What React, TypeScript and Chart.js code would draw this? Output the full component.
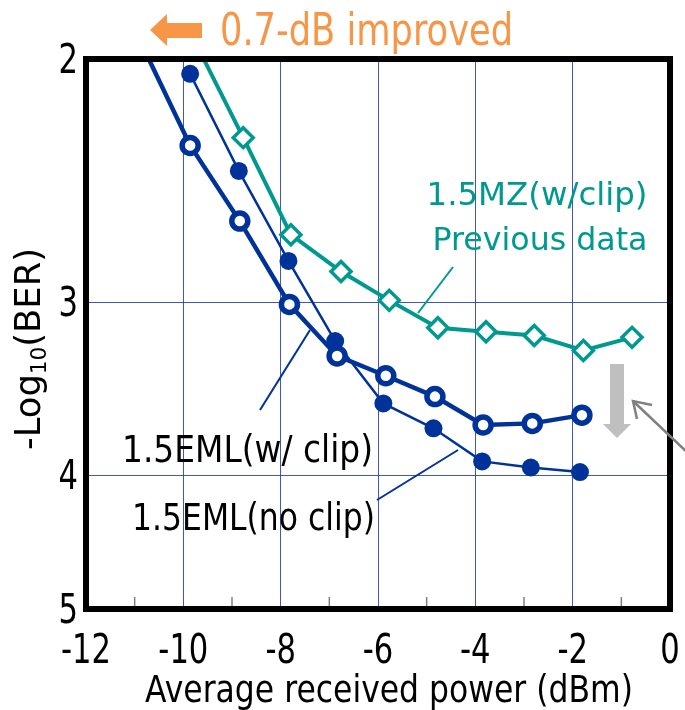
import React, { useEffect, useRef } from "react";
import { Chart, registerables } from "chart.js";

Chart.register(...registerables);

// ---- data ----
const POWER_NO_CLIP = [-9.86, -8.86, -7.84, -6.88, -5.89, -4.86, -3.86, -2.86, -1.85];
const LOG_BER_NO_CLIP = [2.05, 2.41, 2.8, 3.2, 3.55, 3.7, 3.91, 3.95, 3.98];

const POWER_W_CLIP = [-10.86, -9.86, -8.84, -7.82, -6.84, -5.84, -4.83, -3.84, -2.83, -1.81];
const LOG_BER_W_CLIP = [1.95, 2.31, 2.62, 3.01, 3.28, 3.39, 3.51, 3.68, 3.67, 3.62];

const POWER_MZ = [-9.77, -8.77, -7.79, -6.76, -5.77, -4.77, -3.78, -2.79, -1.78, -0.78];
const LOG_BER_MZ = [1.94, 2.28, 2.68, 2.85, 2.99, 3.13, 3.15, 3.17, 3.25, 3.18];

const X_TICKS = [-12, -10, -8, -6, -4, -2, 0];
const X_MINOR_TICKS = [-11, -9, -7, -5, -3, -1];
const Y_TICKS = [2, 3, 4, 5];

const LABEL_MZ_1 = "1.5MZ(w/clip)";
const LABEL_MZ_2 = "Previous data";
const LABEL_W_CLIP = "1.5EML(w/ clip)";
const LABEL_NO_CLIP = "1.5EML(no clip)";
const LABEL_IMPROVED = "0.7-dB improved";
const X_TITLE = "Average received power (dBm)";

// ---- styles ----
const FONT = "'DejaVu Sans', sans-serif";
const BLUE = "#003399";
const TEAL = "#00998f";
const ORANGE = "#f79646";
const GRID = "rgba(30,60,165,0.85)";

function fitText(
  ctx: CanvasRenderingContext2D,
  text: string,
  x: number,
  y: number,
  w: number,
  size: number,
  color: string,
  align: "left" | "center"
) {
  ctx.save();
  ctx.font = `${size}px ${FONT}`;
  ctx.fillStyle = color;
  ctx.textBaseline = "alphabetic";
  ctx.textAlign = "left";
  const m = ctx.measureText(text).width;
  const sx = w / m;
  const x0 = align === "center" ? x - w / 2 : x;
  ctx.translate(x0, y);
  ctx.scale(sx, 1);
  ctx.fillText(text, 0, 0);
  ctx.restore();
}

function condensedText(
  ctx: CanvasRenderingContext2D,
  text: string,
  x: number,
  y: number,
  size: number,
  sx: number,
  color: string,
  align: "left" | "center" | "right"
) {
  ctx.save();
  ctx.font = `${size}px ${FONT}`;
  ctx.fillStyle = color;
  ctx.textBaseline = "alphabetic";
  ctx.textAlign = "left";
  const w = ctx.measureText(text).width * sx;
  const x0 = align === "center" ? x - w / 2 : align === "right" ? x - w : x;
  ctx.translate(x0, y);
  ctx.scale(sx, 1);
  ctx.fillText(text, 0, 0);
  ctx.restore();
}

function line(ctx: CanvasRenderingContext2D, pts: number[][], color: string, width: number) {
  ctx.save();
  ctx.strokeStyle = color;
  ctx.lineWidth = width;
  ctx.lineCap = "butt";
  ctx.beginPath();
  pts.forEach((p, i) => (i === 0 ? ctx.moveTo(p[0], p[1]) : ctx.lineTo(p[0], p[1])));
  ctx.stroke();
  ctx.restore();
}

const overlay = {
  id: "overlay",
  afterDraw(chart: any) {
    const ctx: CanvasRenderingContext2D = chart.ctx;
    const { left, top, right, bottom } = chart.chartArea;
    const xs = chart.scales.x;
    const ys = chart.scales.y;
    ctx.save();

    // minor ticks on bottom axis
    ctx.strokeStyle = "#808080";
    ctx.lineWidth = 1.5;
    X_MINOR_TICKS.forEach((v) => {
      const px = xs.getPixelForValue(v);
      ctx.beginPath();
      ctx.moveTo(px, bottom);
      ctx.lineTo(px, bottom - 12);
      ctx.stroke();
    });

    // frame
    ctx.strokeStyle = "#000";
    ctx.lineWidth = 6;
    ctx.strokeRect(left, top, right - left, bottom - top);

    // tick labels (condensed)
    const tickSize = 40;
    ctx.font = `${tickSize}px ${FONT}`;
    const tsx = 50 / ctx.measureText("-10").width;
    xs.ticks.forEach((t: any) => {
      condensedText(ctx, String(t.value), xs.getPixelForValue(t.value), bottom + 54, tickSize, tsx, "#000", "center");
    });
    ys.ticks.forEach((t: any) => {
      condensedText(ctx, String(t.value), left - 8, ys.getPixelForValue(t.value) + 14, tickSize, tsx, "#000", "right");
    });

    // orange arrow + text
    ctx.fillStyle = ORANGE;
    ctx.beginPath();
    ctx.moveTo(150, 30);
    ctx.lineTo(167, 14);
    ctx.lineTo(167, 23);
    ctx.lineTo(202, 23);
    ctx.lineTo(202, 38);
    ctx.lineTo(167, 38);
    ctx.lineTo(167, 46);
    ctx.closePath();
    ctx.fill();
    fitText(ctx, LABEL_IMPROVED, 220, 45, 293, 44, ORANGE, "left");

    // teal label
    fitText(ctx, LABEL_MZ_1, 537, 205, 221, 32, TEAL, "center");
    fitText(ctx, LABEL_MZ_2, 540, 250, 215, 32, TEAL, "center");
    line(ctx, [[418, 313], [453, 267]], TEAL, 2);

    // black labels
    fitText(ctx, LABEL_W_CLIP, 122, 462, 251, 37, "#000", "left");
    fitText(ctx, LABEL_NO_CLIP, 132, 530, 243, 37, "#000", "left");
    line(ctx, [[260, 410], [310, 330]], BLUE, 2);
    line(ctx, [[377, 500], [458, 450]], BLUE, 2);

    // gray down arrow
    ctx.fillStyle = "#bfbfbf";
    ctx.fillRect(610, 364, 14, 60);
    ctx.beginPath();
    ctx.moveTo(603, 424);
    ctx.lineTo(631, 424);
    ctx.lineTo(617, 438);
    ctx.closePath();
    ctx.fill();

    // gray pointer arrow
    line(ctx, [[690, 455], [633, 401]], "#808080", 2.5);
    line(ctx, [[652, 405], [633, 401], [637, 419]], "#808080", 2.5);

    // x title
    fitText(ctx, X_TITLE, 145, 702, 488, 37, "#000", "left");

    // y title (rotated, with subscript)
    ctx.save();
    ctx.translate(40, 349);
    ctx.rotate(-Math.PI / 2);
    const big = 36;
    const small = 22;
    ctx.fillStyle = "#000";
    ctx.textBaseline = "alphabetic";
    ctx.textAlign = "left";
    ctx.font = `${big}px ${FONT}`;
    const w1 = ctx.measureText("-Log").width;
    const w3 = ctx.measureText("(BER)").width;
    ctx.font = `${small}px ${FONT}`;
    const w2 = ctx.measureText("10").width;
    const total = w1 + w2 + w3;
    const target = 202;
    const sx = target / total;
    ctx.scale(sx, 1);
    let cx = -total / 2;
    ctx.font = `${big}px ${FONT}`;
    ctx.fillText("-Log", cx, 0);
    cx += w1;
    ctx.font = `${small}px ${FONT}`;
    ctx.fillText("10", cx, 6);
    cx += w2;
    ctx.font = `${big}px ${FONT}`;
    ctx.fillText("(BER)", cx, 0);
    ctx.restore();

    ctx.restore();
  },
};

export default function App() {
  const ref = useRef<HTMLCanvasElement>(null);

  useEffect(() => {
    const toPts = (xs: number[], ys: number[]) => xs.map((x, i) => ({ x, y: ys[i] }));
    const chart = new Chart(ref.current as HTMLCanvasElement, {
      type: "scatter",
      data: {
        datasets: [
          {
            label: LABEL_MZ_1 + " " + LABEL_MZ_2,
            data: toPts(POWER_MZ, LOG_BER_MZ),
            showLine: true,
            borderColor: TEAL,
            borderWidth: 4,
            pointStyle: "rectRot",
            pointRadius: 10,
            pointBorderWidth: 3.5,
            pointBackgroundColor: "#ffffff",
            pointBorderColor: TEAL,
            clip: 0,
          },
          {
            label: LABEL_NO_CLIP,
            data: toPts(POWER_NO_CLIP, LOG_BER_NO_CLIP),
            showLine: true,
            borderColor: BLUE,
            borderWidth: 2.5,
            pointStyle: "circle",
            pointRadius: 9,
            pointBorderWidth: 0,
            pointBackgroundColor: BLUE,
            pointBorderColor: BLUE,
            clip: 0,
          },
          {
            label: LABEL_W_CLIP,
            data: toPts(POWER_W_CLIP, LOG_BER_W_CLIP),
            showLine: true,
            borderColor: BLUE,
            borderWidth: 4.5,
            pointStyle: "circle",
            pointRadius: 8,
            pointBorderWidth: 5.5,
            pointBackgroundColor: "#ffffff",
            pointBorderColor: BLUE,
            clip: 0,
          },
        ] as any,
      },
      options: {
        animation: false,
        responsive: false,
        devicePixelRatio: 1,
        layout: { padding: { top: 59, right: 15, left: 0, bottom: 0 } },
        plugins: { legend: { display: false }, tooltip: { enabled: false } },
        scales: {
          x: {
            type: "linear",
            min: -12,
            max: 0,
            afterBuildTicks: (s: any) => {
              s.ticks = X_TICKS.map((v) => ({ value: v }));
            },
            afterFit: (s: any) => {
              s.height = 101;
              s.paddingLeft = 0;
              s.paddingRight = 0;
            },
            grid: { color: GRID, lineWidth: 1, drawTicks: false },
            border: { display: false },
            ticks: { display: false, autoSkip: false },
          },
          y: {
            type: "logarithmic",
            min: 2,
            max: 5,
            reverse: true,
            afterBuildTicks: (s: any) => {
              s.ticks = Y_TICKS.map((v) => ({ value: v }));
            },
            afterFit: (s: any) => {
              s.width = 86;
              s.paddingTop = 0;
              s.paddingBottom = 0;
            },
            grid: { color: GRID, lineWidth: 1, drawTicks: false },
            border: { display: false },
            ticks: { display: false, autoSkip: false },
          },
        },
      } as any,
      plugins: [overlay],
    });
    return () => chart.destroy();
  }, []);

  return (
    <div style={{ position: "absolute", left: 0, top: 0, width: 685, height: 710 }}>
      <canvas ref={ref} width={685} height={710} style={{ display: "block", width: 685, height: 710 }} />
    </div>
  );
}
